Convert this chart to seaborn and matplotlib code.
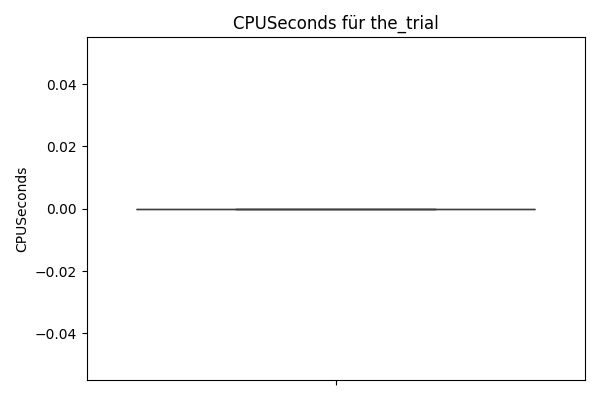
import matplotlib
matplotlib.use("Agg")
import matplotlib.pyplot as plt
import seaborn as sns
import pandas as pd

# all runs of the_trial reported zero CPU seconds
cpu_seconds = [0.0, 0.0, 0.0, 0.0, 0.0]

df = pd.DataFrame({"CPUSeconds": cpu_seconds})

fig, ax = plt.subplots(figsize=(6, 4), dpi=100)
sns.boxplot(data=df, y="CPUSeconds", ax=ax)
ax.set_title("CPUSeconds für the_trial")
ax.set_ylim(-0.055, 0.055)
ax.set_xticks([0])
ax.set_xticklabels([""])
fig.tight_layout()
fig.savefig("out.png", dpi=100)
